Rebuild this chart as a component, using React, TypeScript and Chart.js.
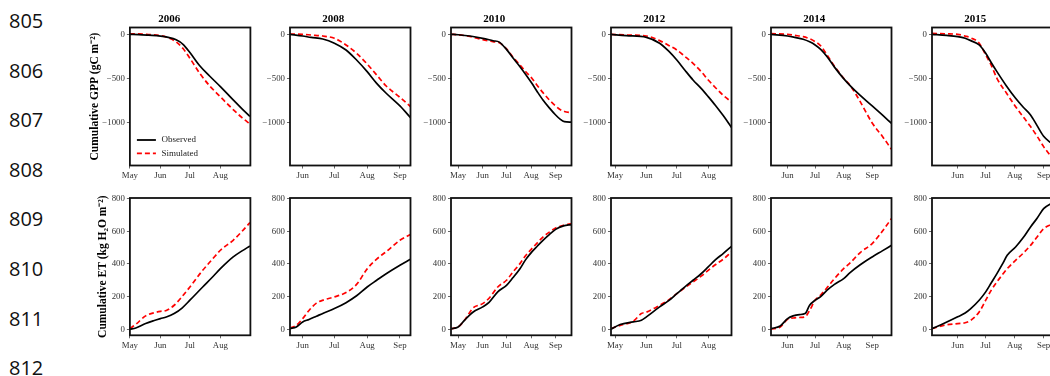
import React, { useEffect, useRef } from 'react';
import { Chart, registerables } from 'chart.js';

Chart.register(...registerables);

// ---------------- data ----------------
const years = ['2006', '2008', '2010', '2012', '2014', '2015'];
const monthTicks = [121, 152, 182, 213, 244];
const monthLabels = ['May', 'Jun', 'Jul', 'Aug', 'Sep'];
const gppTicks = [0, -500, -1000];
const etTicks = [0, 200, 400, 600, 800];
const dayMin = [121, 140, 112, 117, 134, 124.5];
const dayMax = [243.5, 254, 264, 236, 265, 253.5];
const gppRange = [-1480, 77];
const etRange = [-37, 804];
const seriesLabels = ['Observed', 'Simulated'];
const yTitles = ['Cumulative GPP (gC m\u207B\u00B2)', 'Cumulative ET (kg H\u2082O m\u207B\u00B2)'];
const lineNumbers = [805, 806, 807, 808, 809, 810, 811, 812];

// GPP (cumulative, negative = uptake)
const gppDays2006 = [121, 130, 140, 152, 160, 168, 175, 182, 192, 202, 213, 226, 235, 243];
const gppObs2006 = [0, -3, -10, -20, -35, -62, -112, -205, -355, -470, -590, -740, -840, -925];
const gppSim2006 = [5, 5, -2, -15, -40, -85, -160, -270, -440, -580, -705, -850, -940, -1010];

const gppDays2008 = [140, 152, 160, 171, 182, 193, 203, 213, 222, 231, 244, 254];
const gppObs2008 = [0, -19, -35, -53, -100, -177, -290, -421, -553, -665, -808, -940];
const gppSim2008 = [3, 0, -8, -19, -45, -120, -214, -335, -459, -583, -711, -815];

const gppDays2010 = [112, 121, 136, 152, 165, 173, 182, 190, 199, 206, 214, 221, 228, 236, 244, 250, 255, 264];
const gppObs2010 = [0, -5, -19, -45, -72, -88, -170, -265, -365, -450, -553, -650, -741, -830, -910, -960, -985, -990];
const gppSim2010 = [0, -5, -25, -60, -82, -95, -165, -255, -346, -420, -496, -580, -658, -740, -808, -850, -870, -885];

const gppDays2012 = [117, 132, 152, 165, 174, 182, 190, 198, 206, 213, 220, 228, 236];
const gppObs2012 = [0, -15, -34, -100, -190, -290, -405, -515, -610, -703, -800, -920, -1050];
const gppSim2012 = [0, -8, -19, -71, -125, -177, -250, -327, -420, -515, -600, -690, -763];

const gppDays2014 = [134, 152, 160, 169, 176, 182, 188, 195, 203, 213, 221, 231, 244, 255, 265];
const gppObs2014 = [0, -19, -35, -56, -85, -120, -170, -252, -370, -500, -590, -690, -808, -910, -1004];
const gppSim2014 = [8, 0, -12, -26, -50, -83, -130, -233, -360, -496, -590, -760, -1000, -1150, -1297];

const gppDays2015 = [124.5, 140, 152, 160, 166, 175, 182, 188, 194, 204, 214, 222, 230, 237, 244, 253.5];
const gppObs2015 = [0, -12, -26, -45, -71, -120, -214, -320, -421, -580, -722, -820, -910, -1030, -1150, -1240];
const gppSim2015 = [10, 5, 0, -20, -40, -100, -233, -350, -496, -660, -816, -930, -1041, -1150, -1267, -1400];

// ET (cumulative)
const etDays2006 = [121, 127, 137, 145, 152, 158, 166, 174, 182, 195, 205, 213, 226, 235, 243];
const etObs2006 = [0, 8, 35, 52, 65, 75, 96, 130, 178, 259, 320, 371, 443, 480, 510];
const etSim2006 = [4, 30, 82, 100, 110, 115, 147, 200, 259, 361, 430, 484, 545, 600, 653];

const etDays2008 = [140, 146, 152, 158, 165, 172, 182, 193, 203, 213, 222, 231, 244, 254];
const etObs2008 = [4, 14, 45, 60, 80, 100, 127, 163, 205, 259, 300, 340, 392, 429];
const etSim2008 = [8, 24, 65, 115, 160, 180, 198, 225, 275, 370, 430, 475, 545, 580];

const etDays2010 = [112, 121, 129, 140, 152, 160, 171, 182, 190, 199, 206, 214, 221, 228, 236, 244, 254, 264];
const etObs2010 = [4, 14, 55, 106, 137, 165, 229, 269, 315, 371, 425, 474, 510, 545, 580, 612, 633, 641];
const etSim2010 = [4, 14, 55, 131, 157, 190, 259, 300, 350, 402, 450, 494, 530, 565, 595, 620, 637, 647];

const etDays2012 = [117, 126, 139, 147, 152, 165, 174, 182, 190, 198, 206, 213, 220, 228, 236];
const etObs2012 = [0, 29, 45, 55, 76, 137, 175, 218, 260, 300, 340, 382, 425, 465, 508];
const etSim2012 = [4, 24, 49, 96, 105, 147, 180, 218, 255, 290, 325, 361, 395, 430, 473];

const etDays2014 = [134, 144, 152, 158, 165, 171, 176, 182, 188, 195, 203, 213, 220, 231, 244, 255, 265];
const etObs2014 = [4, 20, 65, 82, 90, 96, 147, 178, 200, 239, 275, 310, 347, 395, 443, 480, 514];
const etSim2014 = [0, 14, 61, 69, 72, 76, 116, 178, 210, 255, 310, 371, 406, 470, 525, 600, 678];

const etDays2015 = [124.5, 137, 152, 160, 166, 175, 182, 188, 194, 200, 205, 214, 222, 230, 237, 244, 253.5];
const etObs2015 = [4, 35, 76, 100, 127, 178, 229, 285, 341, 400, 453, 504, 560, 627, 680, 739, 775];
const etSim2015 = [4, 24, 35, 40, 55, 106, 178, 240, 290, 335, 371, 422, 465, 514, 565, 616, 645];

const gppDays = [gppDays2006, gppDays2008, gppDays2010, gppDays2012, gppDays2014, gppDays2015];
const gppObs = [gppObs2006, gppObs2008, gppObs2010, gppObs2012, gppObs2014, gppObs2015];
const gppSim = [gppSim2006, gppSim2008, gppSim2010, gppSim2012, gppSim2014, gppSim2015];
const etDays = [etDays2006, etDays2008, etDays2010, etDays2012, etDays2014, etDays2015];
const etObs = [etObs2006, etObs2008, etObs2010, etObs2012, etObs2014, etObs2015];
const etSim = [etSim2006, etSim2008, etSim2010, etSim2012, etSim2014, etSim2015];

// ---------------- style / layout ----------------
const SERIF = '"Liberation Serif", "Times New Roman", serif';
const BOX_W = 120.5;
const COL_STEP = 160.35;
const FIRST_LEFT = 130;
const X_AXIS_H = 22;

const framePlugin = {
  id: 'frameBox',
  afterDraw(chart: any) {
    const { ctx, chartArea } = chart;
    ctx.save();
    ctx.strokeStyle = '#111';
    ctx.lineWidth = 1.8;
    ctx.strokeRect(chartArea.left, chartArea.top, chartArea.right - chartArea.left, chartArea.bottom - chartArea.top);
    ctx.restore();
  },
};

const legendPlugin = {
  id: 'insetLegend',
  afterDatasetsDraw(chart: any) {
    const { ctx, chartArea } = chart;
    chart.data.datasets.forEach((ds: any, i: number) => {
      const y = chartArea.top + 112.5 + i * 13.3;
      ctx.save();
      ctx.strokeStyle = ds.borderColor;
      ctx.lineWidth = 1.8;
      ctx.setLineDash(ds.borderDash || []);
      ctx.beginPath();
      ctx.moveTo(chartArea.left + 7, y);
      ctx.lineTo(chartArea.left + 26, y);
      ctx.stroke();
      ctx.setLineDash([]);
      ctx.fillStyle = '#222';
      ctx.font = `9px ${SERIF}`;
      ctx.textBaseline = 'middle';
      ctx.textAlign = 'left';
      ctx.fillText(ds.label, chartArea.left + 31.7, y);
      ctx.restore();
    });
  },
};

function geometry(row: number, col: number) {
  const boxLeft = FIRST_LEFT + col * COL_STEP;
  const L = col === 0 ? (row === 0 ? 41.9 : 33.9) : 34;
  const w = Math.ceil(L + BOX_W + 12);
  const padRight = w - L - BOX_W;
  if (row === 0) {
    const boxTop = 27.5;
    const boxH = 138;
    const h = Math.ceil(boxTop + boxH + X_AXIS_H);
    return { x: boxLeft - L, y: 0, w, h, L, padRight, padTop: 0, padBottom: h - boxTop - boxH - X_AXIS_H };
  }
  const padTop = 8;
  const boxTop = 197.7;
  const boxH = 137.3;
  const h = Math.ceil(padTop + boxH + X_AXIS_H);
  return { x: boxLeft - L, y: boxTop - padTop, w, h, L, padRight, padTop, padBottom: h - padTop - boxH - X_AXIS_H };
}

function Panel({ row, col }: { row: number; col: number }) {
  const ref = useRef<HTMLCanvasElement>(null);
  const g = geometry(row, col);

  useEffect(() => {
    if (!ref.current) return;
    const days = row === 0 ? gppDays[col] : etDays[col];
    const obs = row === 0 ? gppObs[col] : etObs[col];
    const sim = row === 0 ? gppSim[col] : etSim[col];
    const yRange = row === 0 ? gppRange : etRange;
    const yTicks = row === 0 ? gppTicks : etTicks;
    const xMin = dayMin[col];
    const xMax = dayMax[col];
    const tickFont = { family: SERIF, size: 8.8 };

    const plugins: any[] = [framePlugin];
    if (row === 0 && col === 0) plugins.push(legendPlugin);

    const chart = new Chart(ref.current, {
      type: 'line',
      data: {
        datasets: [
          {
            label: seriesLabels[0],
            data: days.map((d, i) => ({ x: d, y: obs[i] })),
            borderColor: '#000000',
            borderWidth: 1.7,
            pointRadius: 0,
            cubicInterpolationMode: 'monotone',
          },
          {
            label: seriesLabels[1],
            data: days.map((d, i) => ({ x: d, y: sim[i] })),
            borderColor: '#ff0000',
            borderWidth: 1.7,
            borderDash: [5, 3],
            pointRadius: 0,
            cubicInterpolationMode: 'monotone',
          },
        ],
      },
      options: {
        responsive: false,
        animation: false,
        devicePixelRatio: 1,
        layout: { padding: { left: 0, right: g.padRight, top: g.padTop, bottom: g.padBottom } },
        plugins: {
          legend: { display: false },
          tooltip: { enabled: false },
          title:
            row === 0
              ? {
                  display: true,
                  text: years[col],
                  color: '#000',
                  font: { family: SERIF, size: 11, weight: 'bold' },
                  padding: { top: 12.4, bottom: 1.9 },
                }
              : { display: false },
        },
        scales: {
          x: {
            type: 'linear',
            min: xMin,
            max: xMax,
            afterBuildTicks: (s: any) => {
              s.ticks = monthTicks.filter((v) => v >= xMin && v <= xMax).map((v) => ({ value: v }));
            },
            afterFit: (s: any) => {
              s.height = X_AXIS_H;
            },
            ticks: {
              autoSkip: false,
              maxRotation: 0,
              padding: 2,
              color: '#333',
              font: tickFont,
              callback: (v: any) => monthLabels[monthTicks.indexOf(Number(v))] ?? '',
            },
            grid: { drawOnChartArea: false, drawTicks: true, tickLength: 3, color: '#666', lineWidth: 1 },
            border: { display: false },
          },
          y: {
            type: 'linear',
            min: yRange[0],
            max: yRange[1],
            afterBuildTicks: (s: any) => {
              s.ticks = yTicks.map((v) => ({ value: v }));
            },
            afterFit: (s: any) => {
              s.width = g.L;
            },
            ticks: {
              padding: 2,
              color: '#333',
              font: tickFont,
              callback: (v: any) => (Number(v) < 0 ? '\u2212' + Math.abs(Number(v)) : String(v)),
            },
            grid: { drawOnChartArea: false, drawTicks: true, tickLength: 3, color: '#666', lineWidth: 1 },
            border: { display: false },
            title: {
              display: col === 0,
              text: yTitles[row],
              color: '#000',
              font: { family: SERIF, size: 11.5, weight: 'bold' },
              padding: 0,
            },
          },
        },
      } as any,
      plugins,
    });
    return () => chart.destroy();
  }, [row, col]);

  return (
    <canvas
      ref={ref}
      width={g.w}
      height={g.h}
      style={{ position: 'absolute', left: g.x, top: g.y, width: g.w, height: g.h }}
    />
  );
}

export default function App() {
  const cells: React.ReactNode[] = [];
  for (let r = 0; r < 2; r++) {
    for (let c = 0; c < years.length; c++) {
      cells.push(<Panel key={`${r}-${c}`} row={r} col={c} />);
    }
  }
  return (
    <div
      style={{
        position: 'absolute',
        left: 0,
        top: 0,
        width: 1050,
        height: 376,
        overflow: 'hidden',
        background: '#fff',
      }}
    >
      {lineNumbers.map((n, i) => (
        <div
          key={n}
          style={{
            position: 'absolute',
            left: 9,
            top: 9 + i * 49.6,
            fontFamily: '"Open Sans", "Liberation Sans", sans-serif',
            fontSize: 20,
            lineHeight: '24px',
            color: '#111',
          }}
        >
          {n}
        </div>
      ))}
      {cells}
    </div>
  );
}
